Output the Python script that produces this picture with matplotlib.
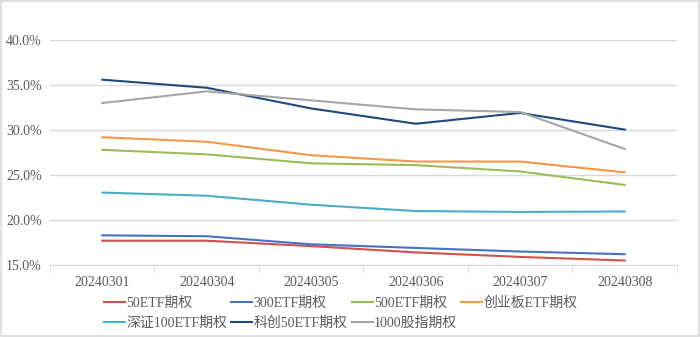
import numpy as np
import matplotlib.pyplot as plt
from matplotlib.ticker import FuncFormatter, FixedLocator

plt.rcParams['font.family'] = ['Liberation Serif', 'Noto Sans CJK SC']

dates = ['20240301', '20240304', '20240305', '20240306', '20240307', '20240308']
names = ['50ETF期权', '300ETF期权', '500ETF期权', '创业板ETF期权',
         '深证100ETF期权', '科创50ETF期权', '1000股指期权']
etf50 = [17.7, 17.7, 17.1, 16.4, 15.9, 15.5]
etf300 = [18.3, 18.2, 17.3, 16.9, 16.5, 16.2]
etf500 = [27.8, 27.3, 26.3, 26.1, 25.4, 23.9]
cyb = [29.2, 28.7, 27.2, 26.5, 26.5, 25.3]
sz100 = [23.05, 22.7, 21.7, 21.0, 20.9, 20.95]
kc50 = [35.6, 34.7, 32.4, 30.7, 31.9, 30.05]
gz1000 = [33.0, 34.3, 33.3, 32.3, 32.0, 27.9]
colors = ['#D0504D', '#4472C4', '#9BBB59', '#F79646', '#4BACC6', '#1F497D', '#A5A5A5']

fig = plt.figure(figsize=(7, 3.37), dpi=100)
fig.patches.append(plt.Rectangle((0.001, 0.002), 0.997, 0.995, transform=fig.transFigure,
                                 fill=False, edgecolor='#D9D9D9', linewidth=1.2))
ax = fig.add_axes([0.0714, 0.2136, 0.8957, 0.6675])

x = np.arange(len(dates))
series = [etf50, etf300, etf500, cyb, sz100, kc50, gz1000]
lines = []
for s, name, c in zip(series, names, colors):
    ln, = ax.plot(x, s, color=c, linewidth=1.5, label=name)
    lines.append(ln)

ax.set_xlim(-0.5, len(dates) - 0.5)
ax.set_ylim(15, 40)
ax.set_yticks([15, 20, 25, 30, 35, 40])
ax.yaxis.set_major_formatter(FuncFormatter(lambda v, p: '%.1f%%' % v))
ax.set_xticks(x)
ax.set_xticklabels(dates)
ax.xaxis.set_minor_locator(FixedLocator(np.arange(-0.5, len(dates), 1.0)))
ax.tick_params(axis='x', which='major', length=0, pad=8, labelsize=10, labelcolor='#595959')
ax.tick_params(axis='x', which='minor', length=5, color='#D9D9D9')
ax.tick_params(axis='y', length=0, labelsize=10, labelcolor='#595959', pad=6)
ax.grid(axis='y', color='#D9D9D9', linewidth=1)
ax.set_axisbelow(True)
for sp in ['top', 'right', 'left']:
    ax.spines[sp].set_visible(False)
ax.spines['bottom'].set_color('#D9D9D9')

# legend filled row by row
order = [0, 4, 1, 5, 2, 6, 3]
leg = fig.legend([lines[i] for i in order], [names[i] for i in order],
                 loc='lower left', bbox_to_anchor=(0.137, -0.005), ncol=4, frameon=False,
                 fontsize=10, handlelength=1.5, handletextpad=0.1, columnspacing=0.3,
                 labelspacing=0.55, borderaxespad=0.2)
for t in leg.get_texts():
    t.set_color('#595959')

fig.savefig('out.png', dpi=100)
